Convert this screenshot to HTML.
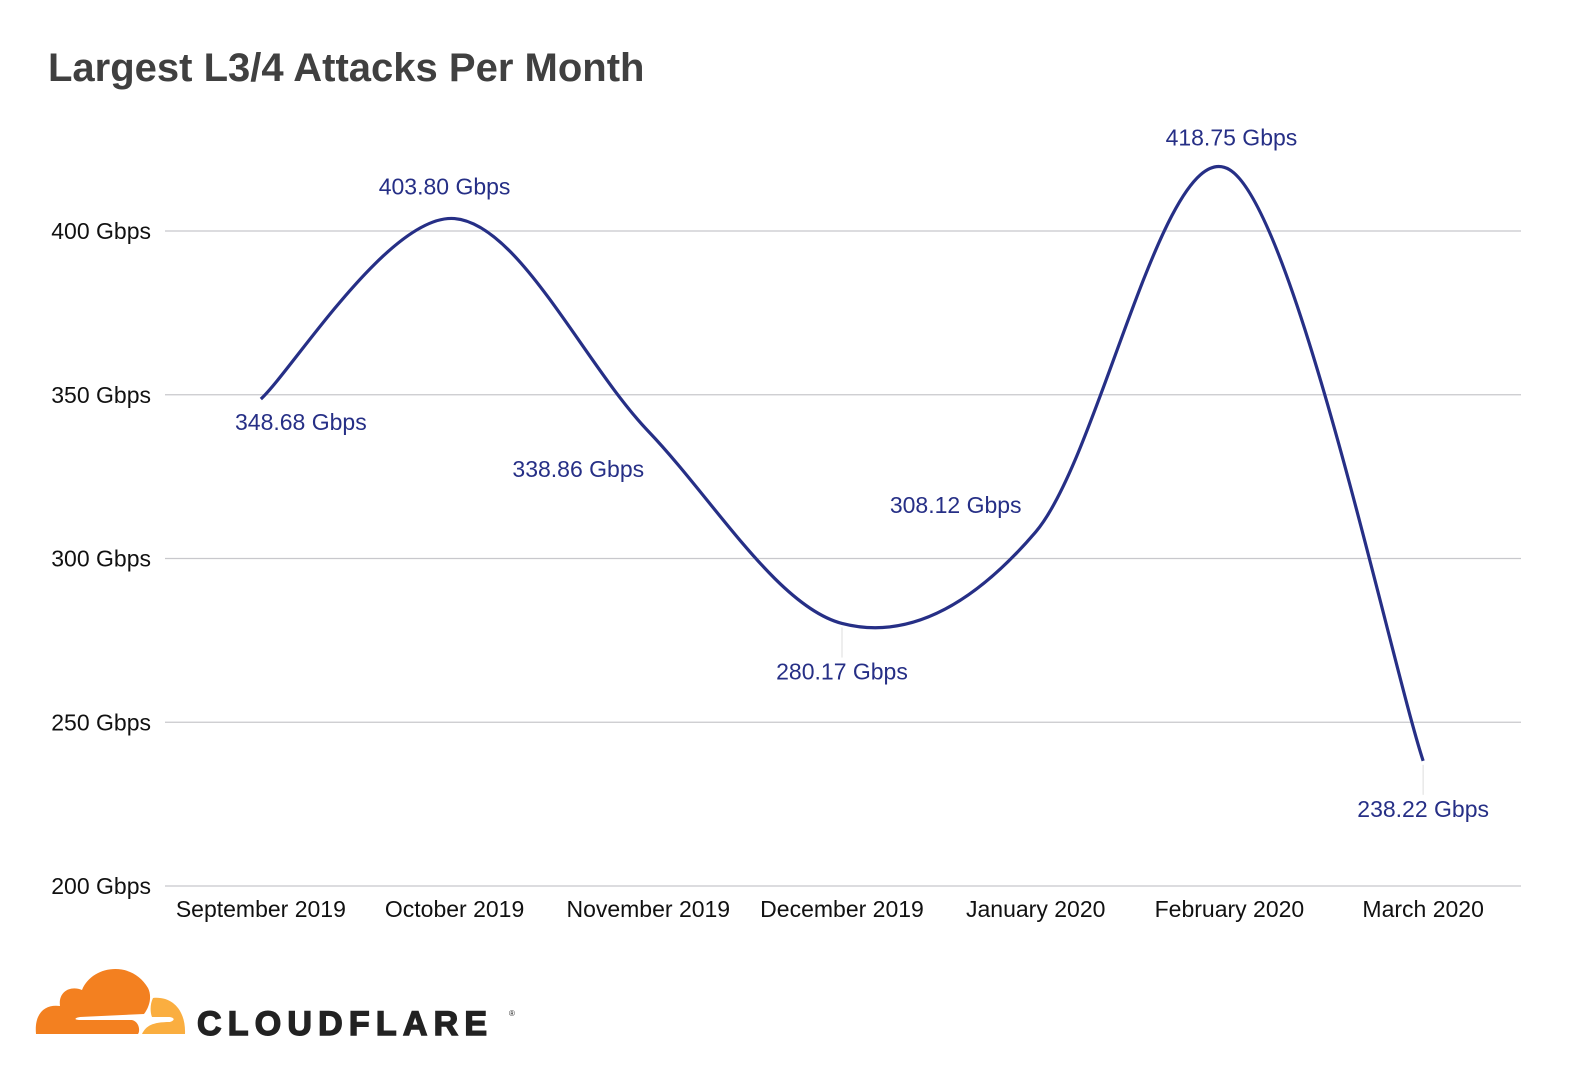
<!DOCTYPE html>
<html><head><meta charset="utf-8"><style>
body{margin:0;background:#fff;width:1571px;height:1078px;overflow:hidden;font-family:"Liberation Sans",sans-serif}
svg{position:absolute;left:0;top:0}
</style></head><body>
<svg id="chart" width="1571" height="1078">
<text x="48" y="81" font-size="40" font-weight="bold" fill="#404040">Largest L3/4 Attacks Per Month</text>
<g id="grid"></g><g id="yticks"></g><g id="xticks"></g><g id="series"></g><g id="labels"></g>
<g>
<path d="M36 1034 C34 1012 46 1004 60 1006 C58 992 70 985 82 990 C92 965 132 960 148 988 C152 996 150 1006 144 1014 L80 1017 C74 1018 74 1020 80 1020 L132 1020 C140 1022 140 1032 138 1034 Z" fill="#f38020"/>
<path d="M153 998 C172 996 186 1010 185 1034 L142 1034 C146 1026 152 1022 170 1022 C176 1020 174 1017 168 1017 L152 1017 C150 1012 150 1004 153 998 Z" fill="#faae40"/>
<text x="197" y="1035" font-size="34" font-weight="900" fill="#222" stroke="#222" stroke-width="1.4" letter-spacing="6.2" font-family="'Liberation Sans',sans-serif">CLOUDFLARE</text>
<text x="509" y="1016" font-size="8" fill="#222">®</text>
</g>
</svg>
<script>
const categories=["September 2019","October 2019","November 2019","December 2019","January 2020","February 2020","March 2020"];
const values=[348.68,403.80,338.86,280.17,308.12,418.75,238.22];
const valueLabels=["348.68 Gbps","403.80 Gbps","338.86 Gbps","280.17 Gbps","308.12 Gbps","418.75 Gbps","238.22 Gbps"];
const yTicks=[200,250,300,350,400];
const NS="http://www.w3.org/2000/svg";
const L=165,R=1521,Y0=886,Y400=231;
const y=v=>Y0-(v-200)*(Y0-Y400)/200;
const band=(R-L)/categories.length;
const x=i=>L+band*(i+0.5)-1;
function mk(tag,attrs,parent,txt){const e=document.createElementNS(NS,tag);for(const k in attrs)e.setAttribute(k,attrs[k]);if(txt!=null)e.textContent=txt;document.getElementById(parent).appendChild(e);return e;}
yTicks.forEach(t=>{
 const g=mk('line',{x1:L,x2:R,y1:y(t),y2:y(t),stroke:'#c8c8cc','stroke-width':1.3},'grid');
 
 
 const tx=mk('text',{x:151,y:y(t)+8,'text-anchor':'end','font-size':23,fill:'#111'},'yticks',t+' Gbps');
 
 
});
categories.forEach((c,i)=>{
 const tx=mk('text',{x:x(i),y:917,'text-anchor':'middle','font-size':23,fill:'#111'},'xticks',c);
 
 
});
const pts=values.map((v,i)=>[x(i),y(v)]);
let d='M'+pts[0][0]+','+pts[0][1];
for(let i=0;i<pts.length-1;i++){
 const p0=pts[i-1]||pts[i],p1=pts[i],p2=pts[i+1],p3=pts[i+2]||p2;
 const c1=[p1[0]+(p2[0]-p0[0])/6,p1[1]+(p2[1]-p0[1])/6];
 const c2=[p2[0]-(p3[0]-p1[0])/6,p2[1]-(p3[1]-p1[1])/6];
 d+=` C${c1[0]},${c1[1]} ${c2[0]},${c2[1]} ${p2[0]},${p2[1]}`;
}
const line=mk('path',{d:d,fill:'none',stroke:'#262f86','stroke-width':3.2},'series');


const offs=[[40,31],[-10,-24],[-70,46],[0,56],[-80,-19],[2,-24],[0,56]];
values.forEach((v,i)=>{
 const [dx,dy]=offs[i];
 if(i===3||i===6){const ll=mk('line',{x1:pts[i][0],x2:pts[i][0],y1:pts[i][1]+4,y2:pts[i][1]+dy-22,stroke:'#ddd','stroke-width':1},'labels');
  
  }
 const t=mk('text',{x:pts[i][0]+dx,y:pts[i][1]+dy,'text-anchor':'middle','font-size':23,fill:'#262f86'},'labels',valueLabels[i]);
 
 
});
</script>
</body></html>
